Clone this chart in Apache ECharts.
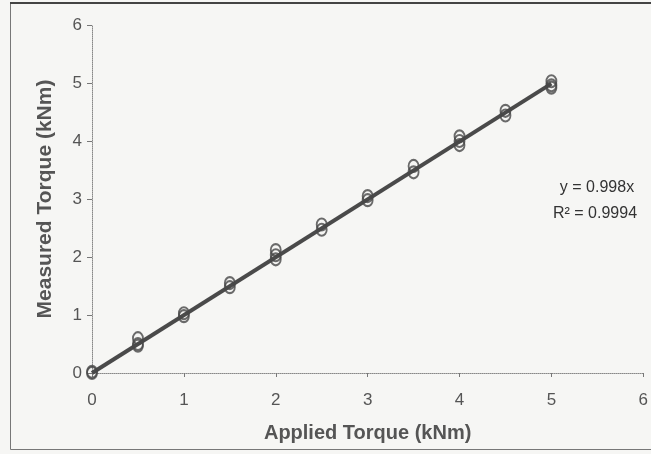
<!DOCTYPE html>
<html><head><meta charset="utf-8">
<script src="https://cdn.jsdelivr.net/npm/echarts@6/dist/echarts.min.js"></script>
<style>html,body{margin:0;padding:0;background:#f6f6f4;}#c{width:651px;height:454px;}</style>
</head><body><div id="c"></div>
<script>
const xTicks = [0,1,2,3,4,5,6];
const yTicks = [0,1,2,3,4,5,6];
const appliedTorque = [0,0, 0.5,0.5,0.5, 1,1, 1.5,1.5, 2,2,2, 2.5,2.5, 3,3, 3.5,3.5, 4,4,4, 4.5,4.5, 5,5,5];
const measuredTorque = [0.02,0.0, 0.6,0.5,0.47, 1.03,0.98, 1.55,1.48, 2.12,2.03,1.96, 2.56,2.47, 3.05,2.98, 3.57,3.46, 4.08,4.0,3.93, 4.52,4.44, 5.03,4.96,4.92];
const trendSlope = 0.998;
const trendX = [0, 5];
const eqText = 'y = 0.998x';
const r2Text = 'R² = 0.9994';

const chart = echarts.init(document.getElementById('c'));
const font = 'Liberation Sans, Arial, sans-serif';
chart.setOption({
  backgroundColor: '#f6f6f4',
  animation: false,
  grid: {left: 92, right: 3, top: 25, bottom: 81},
  xAxis: {
    type: 'value', min: 0, max: 6, interval: 1,
    name: 'Applied Torque (kNm)', nameLocation: 'middle', nameGap: 50,
    nameTextStyle: {fontFamily: font, fontSize: 20, fontWeight: 'bold', color: '#555'},
    axisLine: {lineStyle: {color: '#888', type: 'dotted', width: 1}},
    axisTick: {show: true, length: 4, inside: false, lineStyle: {color: '#777'}},
    axisLabel: {fontFamily: font, fontSize: 17, color: '#555', margin: 19, formatter: v => xTicks.includes(v) ? String(v) : ''},
    splitLine: {show: false}
  },
  yAxis: {
    type: 'value', min: 0, max: 6, interval: 1,
    name: 'Measured Torque (kNm)', nameLocation: 'middle', nameGap: 36,
    nameTextStyle: {fontFamily: font, fontSize: 21, fontWeight: 'bold', color: '#555'},
    axisLine: {lineStyle: {color: '#888', type: 'dotted', width: 1}},
    axisTick: {show: true, length: 5, lineStyle: {color: '#777'}},
    axisLabel: {fontFamily: font, fontSize: 17, color: '#555', margin: 10, formatter: v => yTicks.includes(v) ? String(v) : ''},
    splitLine: {show: false}
  },
  series: [
    {
      type: 'line', name: 'trend',
      data: trendX.map(x => [x, trendSlope * x]),
      showSymbol: false, symbol: 'none',
      lineStyle: {color: '#4a4a4a', width: 4},
      z: 2
    },
    {
      type: 'scatter', name: 'measured',
      data: appliedTorque.map((x, i) => [x, measuredTorque[i]]),
      symbol: 'circle', symbolSize: [10, 12],
      itemStyle: {color: 'rgba(0,0,0,0)', borderColor: '#474747', borderWidth: 2},
      z: 3
    }
  ],
  graphic: [
    {type: 'rect', shape: {x: 10.5, y: 3.5, width: 641, height: 446}, style: {fill: null, stroke: '#777', lineWidth: 1}, z: -1},
    {type: 'line', shape: {x1: 10, y1: 3, x2: 651, y2: 3}, style: {stroke: '#444', lineWidth: 2}},
    {type: 'text', x: 597, y: 188, style: {text: eqText, font: '16px ' + font, fill: '#333', align: 'center', verticalAlign: 'middle'}},
    {type: 'text', x: 595, y: 214, style: {text: r2Text, font: '16px ' + font, fill: '#333', align: 'center', verticalAlign: 'middle'}}
  ]
});
</script></body></html>
